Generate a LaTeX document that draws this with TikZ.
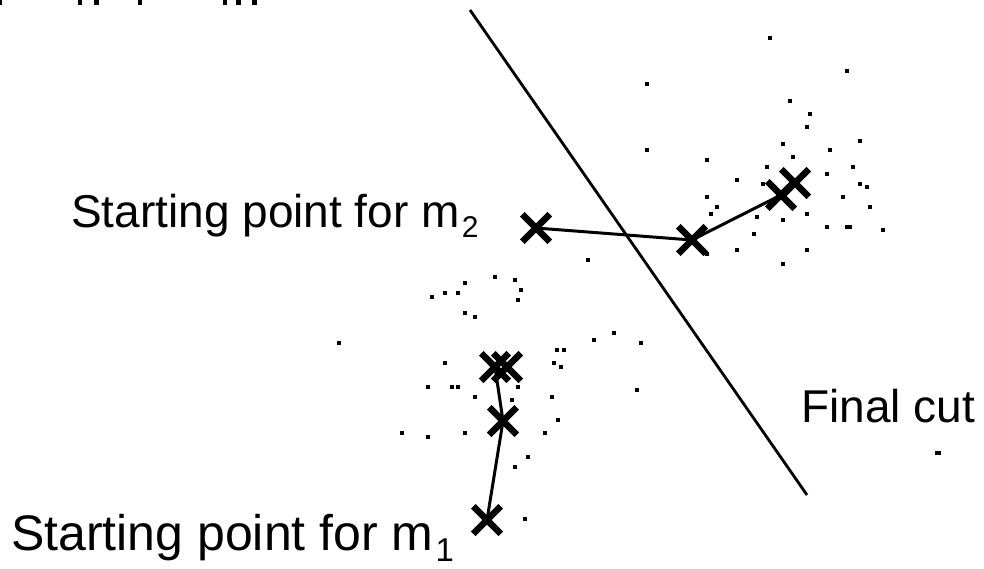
\documentclass[tikz,border=0pt]{standalone}
\usepackage{fontspec}
\setmainfont{Liberation Sans}
\usetikzlibrary{shapes.misc}
\begin{document}
\begin{tikzpicture}[x=1pt,y=-1pt,
  xmark/.style={cross out,draw,line width=6.5pt,minimum size=21pt,inner sep=0pt},
  pathline/.style={line width=3pt},
  cutline/.style={line width=2.8pt},
  lbl/.style={anchor=base west,inner sep=0pt}]
\useasboundingbox (0,0) rectangle (984,568);
% cut-off marks at the top edge
\foreach \x/\w in {0/1.5,78/4,94/5,138/4,223/4,236/5,252/5}
  \fill (\x,0) rectangle +(\w,5);
% scattered points
\foreach \x/\y in {770/38,847/71,647/84,790/101,810/114,807/127,860/141,647/150,783/144,830/150,793/157,707/160,767/167,853/167,827/174,737/180,763/184,860/184,867/187,843/197,707/197,717/207,870/207,711/214,807/214,757/217,783/220,827/227,883/230,754/234,737/250,807/250,707/254,783/264,588/260,495/277,515/280,465/283,521/290,432/297,445/293,458/293,518/300,465/313,475/317,339/343,614/333,594/340,557/350,564/350,445/363,554/363,561/367,428/387,452/387,458/387,518/387,475/397,512/400,552/397,558/420,402/433,428/437,465/433,545/433,528/457,515/467,525/519,641/343,637/390}
  \fill (\x-1.7,\y-1.7) rectangle +(3.4,3.4);
\fill (845,225.3) rectangle +(7,3.4);
\fill (935,451.3) rectangle +(6,3.4);
% final cut
\coordinate (cutA) at (470,10);
\coordinate (cutB) at (807,495);
\draw[cutline] (cutA) -- (cutB);
% m2 track
\node[xmark] (a1) at (536,228) {};
\node[xmark] (a2) at (692,240) {};
\node[xmark] (a3) at (781,195) {};
\node[xmark] (a4) at (795,183) {};
\draw[pathline] (a1.center) -- (a2.center) -- (a3.center);
% m1 track
\node[xmark] (b1) at (487,520) {};
\node[xmark] (b2) at (503,421) {};
\node[xmark] (b3) at (495,367) {};
\node[xmark] (b4) at (507,367) {};
\draw[pathline] (b1.center) -- (b2.center) -- (b3.center);
% labels
\node[lbl,font=\fontsize{46}{50}\selectfont] (lm2) at (71,227)
  {Starting point for m\hspace{2pt}\raisebox{-10pt}{\fontsize{30}{30}\selectfont 2}};
\node[lbl,font=\fontsize{50}{54}\selectfont] (lm1) at (11,550)
  {Starting point for m\hspace{2pt}\raisebox{-11pt}{\fontsize{33}{33}\selectfont 1}};
\node[lbl,font=\fontsize{46}{50}\selectfont] (lcut) at (801,422) {Final cut};
\end{tikzpicture}
\end{document}
